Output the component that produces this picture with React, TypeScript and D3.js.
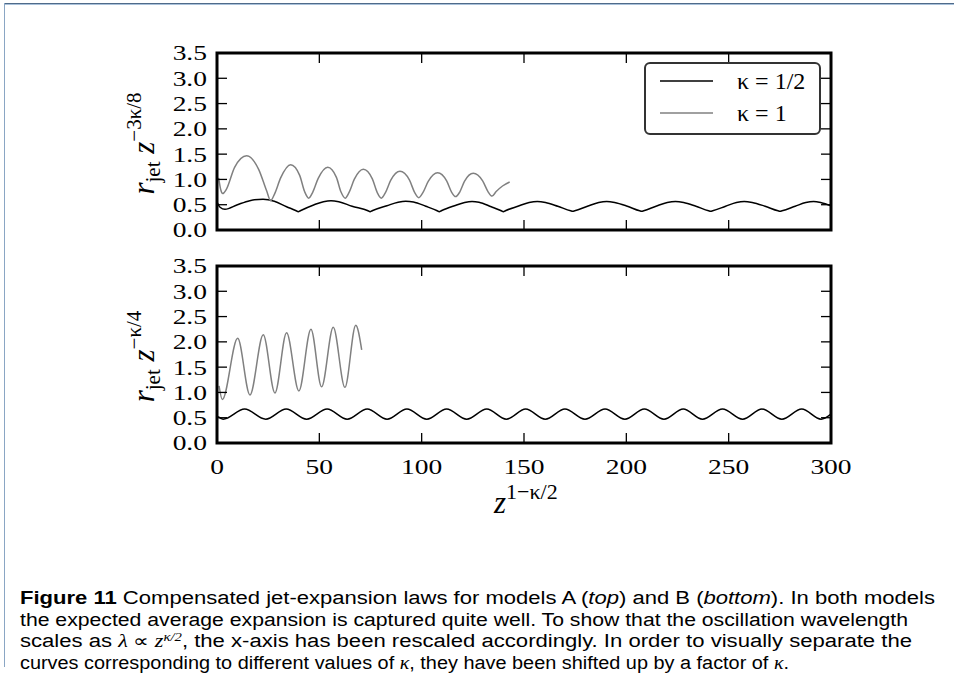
import React from 'react';
import * as d3 from 'd3';

// Axis ticks
const xTicks = [0, 50, 100, 150, 200, 250, 300];
const xTickLabels = ['0', '50', '100', '150', '200', '250', '300'];
const yTicks = [0, 0.5, 1.0, 1.5, 2.0, 2.5, 3.0, 3.5];
const yTickLabels = ['0.0', '0.5', '1.0', '1.5', '2.0', '2.5', '3.0', '3.5'];

// Model A, kappa = 1/2 (black)
const aHalfX = [0.3, 1.5, 3.9, 10, 16, 22.5, 28, 34, 38.7, 39.7, 40.7, 47.5, 52, 55.7, 59.5, 66, 73.8, 74.8, 75.8, 83, 88.5, 92.2, 96, 102, 107.6, 108.6, 109.6, 116, 121, 124.6, 128, 134, 138.9, 139.9, 140.9, 147, 152.5, 156.5, 160.5, 166.5, 172.8, 173.8, 174.8, 181, 186.5, 190.4, 194.3, 200.5, 206.5, 207.5, 208.5, 214.5, 220, 224, 228, 234, 240.2, 241.2, 242.2, 248.5, 253.8, 257.6, 261.5, 267.8, 274.1, 275.1, 276.1, 282.5, 287.7, 291.5, 295.3, 300];
const aHalfY = [0.53, 0.45, 0.41, 0.5, 0.58, 0.61, 0.57, 0.46, 0.38, 0.36, 0.38, 0.5, 0.56, 0.58, 0.56, 0.47, 0.38, 0.36, 0.38, 0.48, 0.55, 0.57, 0.555, 0.47, 0.38, 0.36, 0.38, 0.48, 0.545, 0.565, 0.55, 0.46, 0.38, 0.36, 0.38, 0.47, 0.545, 0.565, 0.545, 0.47, 0.38, 0.37, 0.38, 0.47, 0.545, 0.565, 0.545, 0.47, 0.38, 0.37, 0.38, 0.47, 0.545, 0.565, 0.545, 0.47, 0.38, 0.37, 0.38, 0.47, 0.545, 0.565, 0.545, 0.47, 0.38, 0.37, 0.38, 0.47, 0.545, 0.565, 0.54, 0.48];

// Model A, kappa = 1 (grey)
const aOneX = [0.8, 1.8, 2.8, 4.5, 8.6, 14.5, 20.35, 24.2, 26.2, 28.2, 31.1, 36.0, 40.4, 42.8, 44.8, 46.8, 49.45, 54.1, 58.35, 60.6, 62.6, 64.6, 67.05, 71.5, 75.9, 78.3, 80.3, 82.3, 84.85, 89.4, 94.0, 96.6, 98.6, 100.6, 103.2, 107.8, 112.2, 114.6, 116.6, 118.6, 120.9, 125.2, 129.8, 132.4, 134.4, 136.4, 139.5, 143];
const aOneY = [1.03, 0.8, 0.72, 0.8, 1.24, 1.47, 1.2, 0.78, 0.58, 0.72, 1.03, 1.29, 1.08, 0.76, 0.63, 0.75, 1.02, 1.24, 1.04, 0.75, 0.63, 0.75, 1.0, 1.2, 1.01, 0.74, 0.63, 0.74, 0.98, 1.16, 0.99, 0.74, 0.64, 0.74, 0.96, 1.13, 0.97, 0.75, 0.66, 0.75, 0.96, 1.12, 0.97, 0.76, 0.67, 0.76, 0.87, 0.95];

// Model B, kappa = 1/2 (black)
const bHalfX = [0.5, 3, 13.5, 23.8, 33.8, 43.8, 53.8, 63.6, 73.4, 83.1, 92.8, 102.5, 112.2, 122, 131.8, 141.4, 150.8, 160.4, 170, 179.8, 189.6, 199.3, 208.8, 218.4, 227.8, 237.2, 247, 256.8, 266.3, 276, 285.7, 295.2, 300];
const bHalfY = [0.52, 0.47, 0.67, 0.47, 0.67, 0.47, 0.67, 0.47, 0.67, 0.47, 0.67, 0.47, 0.67, 0.47, 0.67, 0.47, 0.67, 0.47, 0.67, 0.47, 0.67, 0.47, 0.67, 0.47, 0.67, 0.47, 0.67, 0.47, 0.67, 0.47, 0.67, 0.47, 0.57];

// Model B, kappa = 1 (grey)
const bOneX = [1.0, 2.6, 10.1, 16.1, 22.6, 28.3, 34.0, 40.0, 45.9, 51.1, 56.8, 62.5, 67.8, 70.7];
const bOneY = [1.13, 0.86, 2.07, 0.95, 2.14, 0.99, 2.18, 1.03, 2.25, 1.11, 2.29, 1.10, 2.33, 1.84];

const legendLabels = ['κ = 1/2', 'κ = 1'];
const seriesColors = ['#000000', '#808080'];

const W = 954;
const H = 685;
const plotLeft = 217;
const plotRight = 831;
const serif = '"Liberation Serif", "Times New Roman", serif';

const x = d3.scaleLinear().domain([0, 300]).range([plotLeft, plotRight]);

type Pt = [number, number];

function Panel(props: {
  top: number;
  bottom: number;
  series: { xs: number[]; ys: number[]; color: string }[];
  showXLabels: boolean;
  ylabelSup: string;
  legend: boolean;
}) {
  const { top, bottom, series, showXLabels, ylabelSup, legend } = props;
  const y = d3.scaleLinear().domain([0, 3.5]).range([bottom, top]);
  const line = d3
    .line<Pt>()
    .x((d) => x(d[0]))
    .y((d) => y(d[1]))
    .curve(d3.curveMonotoneX);
  const tickLen = 10;
  const midY = (top + bottom) / 2;
  return (
    <g>
      <defs>
        <clipPath id={`clip-${top}`}>
          <rect x={plotLeft} y={top} width={plotRight - plotLeft} height={bottom - top} />
        </clipPath>
      </defs>
      <g clipPath={`url(#clip-${top})`}>
        {series.map((s, i) => (
          <path
            key={i}
            d={line(d3.zip(s.xs, s.ys) as Pt[]) || ''}
            fill="none"
            stroke={s.color}
            strokeWidth={1.5}
            strokeLinejoin="round"
          />
        ))}
      </g>
      {/* ticks on all four sides, pointing inward */}
      {xTicks.map((t) => (
        <g key={`xt${t}`} stroke="#000" strokeWidth={1.3}>
          <line x1={x(t)} x2={x(t)} y1={bottom} y2={bottom - tickLen} />
          <line x1={x(t)} x2={x(t)} y1={top} y2={top + tickLen} />
        </g>
      ))}
      {yTicks.map((t) => (
        <g key={`yt${t}`} stroke="#000" strokeWidth={1.3}>
          <line x1={plotLeft} x2={plotLeft + tickLen} y1={y(t)} y2={y(t)} />
          <line x1={plotRight} x2={plotRight - tickLen} y1={y(t)} y2={y(t)} />
        </g>
      ))}
      <rect
        x={plotLeft}
        y={top}
        width={plotRight - plotLeft}
        height={bottom - top}
        fill="none"
        stroke="#000"
        strokeWidth={3}
      />
      {yTicks.map((t, i) => (
        <text
          key={`yl${t}`}
          transform={`translate(${plotLeft - 10},${y(t)}) scale(1.25,1)`}
          textAnchor="end"
          dy="0.34em"
          fontFamily={serif}
          fontSize={22}
        >
          {yTickLabels[i]}
        </text>
      ))}
      {showXLabels &&
        xTicks.map((t, i) => (
          <text
            key={`xl${t}`}
            transform={`translate(${x(t)},${bottom + 31}) scale(1.25,1)`}
            textAnchor="middle"
            fontFamily={serif}
            fontSize={22}
          >
            {xTickLabels[i]}
          </text>
        ))}
      <text
        transform={`translate(154,${midY + 2}) rotate(-90)`}
        textAnchor="middle"
        fontFamily={serif}
        fontSize={31}
      >
        <tspan fontStyle="italic">r</tspan>
        <tspan fontSize={21} dy={6}>jet</tspan>
        <tspan fontStyle="italic" dy={-6}>{' z'}</tspan>
        <tspan fontSize={21} dy={-13}>{ylabelSup}</tspan>
      </text>
      {legend && (
        <g>
          <rect x={645} y={63} width={175} height={71} rx={5} fill="#fff" stroke="#333" strokeWidth={2} />
          {legendLabels.map((lab, i) => (
            <g key={lab}>
              <line x1={660} x2={713} y1={81 + i * 32} y2={81 + i * 32} stroke={seriesColors[i]} strokeWidth={1.5} />
              <text x={737} y={81 + i * 32} dy="0.34em" fontFamily={serif} fontSize={24}>
                {lab}
              </text>
            </g>
          ))}
        </g>
      )}
    </g>
  );
}

export default function App() {
  return (
    <div style={{ position: 'absolute', left: 0, top: 0 }}>
      <svg width={W} height={H} viewBox={`0 0 ${W} ${H}`} style={{ display: 'block', background: '#fff' }}>
        {/* page frame */}
        <line x1={4} x2={W} y1={3.5} y2={3.5} stroke="#4f6b8a" strokeWidth={1} />
        <line x1={4} x2={W} y1={4.5} y2={4.5} stroke="#a9c1da" strokeWidth={1} />
        <line x1={4.5} x2={4.5} y1={3} y2={667} stroke="#8aa6c4" strokeWidth={1} />

        <Panel
          top={53}
          bottom={230}
          series={[
            { xs: aHalfX, ys: aHalfY, color: seriesColors[0] },
            { xs: aOneX, ys: aOneY, color: seriesColors[1] },
          ]}
          showXLabels={false}
          ylabelSup="−3κ/8"
          legend={true}
        />
        <Panel
          top={266}
          bottom={443}
          series={[
            { xs: bHalfX, ys: bHalfY, color: seriesColors[0] },
            { xs: bOneX, ys: bOneY, color: seriesColors[1] },
          ]}
          showXLabels={true}
          ylabelSup="−κ/4"
          legend={false}
        />

        {/* x-axis label */}
        <text x={494} y={513} fontFamily={serif} fontSize={31}>
          <tspan fontStyle="italic">z</tspan>
          <tspan fontSize={22} dy={-14}>1−κ/2</tspan>
        </text>

        {/* caption */}
        <g fontFamily='"Liberation Sans", Arial, sans-serif' fontSize={18} fill="#000">
          <text x={20} y={604} textLength={915} lengthAdjust="spacingAndGlyphs">
            <tspan fontWeight="bold">Figure 11</tspan>
            <tspan>{'  Compensated jet-expansion laws for models A ('}</tspan>
            <tspan fontStyle="italic">top</tspan>
            <tspan>{') and B ('}</tspan>
            <tspan fontStyle="italic">bottom</tspan>
            <tspan>{'). In both models'}</tspan>
          </text>
          <text x={20} y={626} textLength={888} lengthAdjust="spacingAndGlyphs">
            the expected average expansion is captured quite well. To show that the oscillation wavelength
          </text>
          <text x={20} y={647} textLength={892} lengthAdjust="spacingAndGlyphs">
            <tspan>{'scales as '}</tspan>
            <tspan fontFamily={serif} fontStyle="italic">λ</tspan>
            <tspan fontFamily={serif}>{' ∝ '}</tspan>
            <tspan fontFamily={serif} fontStyle="italic">z</tspan>
            <tspan fontFamily={serif} fontStyle="italic" fontSize={12} dy={-6}>κ/2</tspan>
            <tspan dy={6}>{', the x-axis has been rescaled accordingly. In order to visually separate the'}</tspan>
          </text>
          <text x={20} y={669} textLength={769} lengthAdjust="spacingAndGlyphs">
            <tspan>{'curves corresponding to different values of '}</tspan>
            <tspan fontFamily={serif} fontStyle="italic">κ</tspan>
            <tspan>{', they have been shifted up by a factor of '}</tspan>
            <tspan fontFamily={serif} fontStyle="italic">κ</tspan>
            <tspan>.</tspan>
          </text>
        </g>
      </svg>
    </div>
  );
}
